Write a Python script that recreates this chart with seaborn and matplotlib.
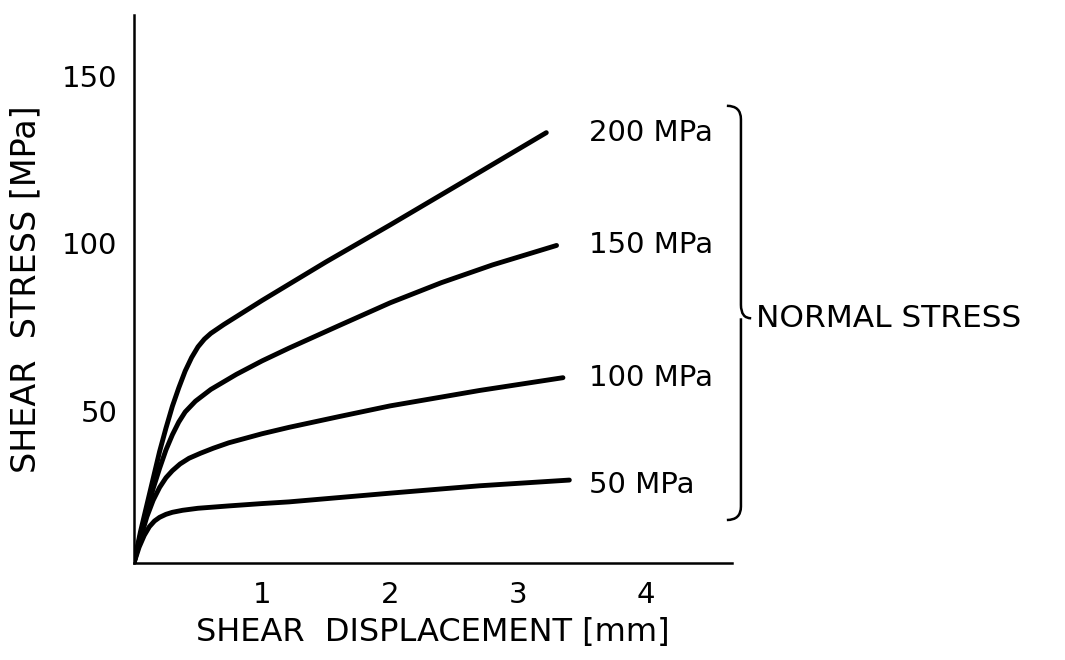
import numpy as np
import pandas as pd
import seaborn as sns
import matplotlib.pyplot as plt
from matplotlib.path import Path
from matplotlib.patches import PathPatch

# ---- data ----
disp_200 = [0.0, 0.05, 0.10, 0.15, 0.20, 0.25, 0.30, 0.35, 0.40, 0.45, 0.50,
            0.55, 0.60, 0.70, 0.80, 1.0, 1.5, 2.0, 2.6, 3.22]
stress_200 = [4.8, 14, 22, 30, 38, 45, 51.5, 57, 62, 66, 69.2,
              71.5, 73.2, 75.8, 78.2, 83, 94.5, 105.5, 119, 133]
disp_150 = [0.0, 0.05, 0.10, 0.15, 0.20, 0.25, 0.30, 0.35, 0.40, 0.48, 0.60,
            0.80, 1.0, 1.21, 1.6, 2.0, 2.4, 2.8, 3.3]
stress_150 = [4.8, 13, 20, 27, 33, 38.5, 43, 46.8, 49.8, 53, 56.5,
              61, 65, 68.8, 75.5, 82.3, 88.3, 93.6, 99.4]
disp_100 = [0.0, 0.05, 0.10, 0.15, 0.20, 0.25, 0.30, 0.36, 0.43, 0.52, 0.62,
            0.74, 1.0, 1.21, 1.6, 2.0, 2.7, 3.35]
stress_100 = [4.8, 12, 18.5, 23.5, 27.3, 30.2, 32.3, 34.3, 36, 37.5, 39.0,
              40.6, 43.3, 45.2, 48.4, 51.6, 56.2, 60]
disp_50 = [0.0, 0.04, 0.08, 0.12, 0.16, 0.20, 0.25, 0.30, 0.38, 0.50, 0.74,
           1.0, 1.21, 2.0, 2.7, 3.4]
stress_50 = [4.8, 9.5, 13, 15.6, 17.3, 18.4, 19.3, 19.9, 20.5, 21.1, 21.8,
             22.5, 23.0, 25.6, 27.8, 29.5]

series_labels = ["200 MPa", "150 MPa", "100 MPa", "50 MPa"]
x_ticks = [1, 2, 3, 4]
y_ticks = [50, 100, 150]
x_label = "SHEAR  DISPLACEMENT [mm]"
y_label = "SHEAR  STRESS [MPa]"
brace_label = "NORMAL STRESS"

frames = []
for lab, xs, ys in zip(series_labels,
                       [disp_200, disp_150, disp_100, disp_50],
                       [stress_200, stress_150, stress_100, stress_50]):
    frames.append(pd.DataFrame({"disp": xs, "stress": ys, "normal": lab}))
df = pd.concat(frames, ignore_index=True)

sns.set_style("white")
plt.rcParams['font.family'] = ['DejaVu Sans']
plt.rcParams['text.color'] = 'black'
plt.rcParams['axes.labelcolor'] = 'black'

fig = plt.figure(figsize=(10.65, 6.6), dpi=100)
ax = fig.add_axes([0.1258, 0.147, 0.5615, 0.830])

sns.lineplot(data=df, x="disp", y="stress", hue="normal", units="normal",
             estimator=None, sort=False, palette=["black"] * 4,
             linewidth=3.5, legend=False, ax=ax)
for ln in ax.lines:
    ln.set_solid_capstyle("round")
    ln.set_solid_joinstyle("round")

ax.set_xlim(0, 4.67)
ax.set_ylim(4.8, 168)
ax.set_xticks(x_ticks)
ax.set_xticklabels([str(t) for t in x_ticks])
ax.set_yticks(y_ticks)
ax.set_yticklabels([str(t) for t in y_ticks])
for s in ["top", "right"]:
    ax.spines[s].set_visible(False)
for s in ["left", "bottom"]:
    ax.spines[s].set_linewidth(1.8)
    ax.spines[s].set_color("black")
ax.tick_params(axis="both", direction="in", length=8, width=1.6,
               colors="black", labelsize=21)
ax.tick_params(axis="x", pad=13)
ax.tick_params(axis="y", pad=12)

ax.set_xlabel(x_label, fontsize=23, labelpad=6)
ax.set_ylabel(y_label, fontsize=24, labelpad=14)

# series labels at the line ends
label_y = [133, 99.4, 60, 28]
for lab, yv in zip(series_labels, label_y):
    ax.text(3.55, yv, lab, fontsize=21, va="center", ha="left", clip_on=False)

# curly brace grouping
x_in, x_mid, x_tip = 4.63, 4.74, 4.82
y_top, y_bot, y_c = 141, 17.6, 77.7
verts = [(x_in, y_top), (x_mid, y_top), (x_mid, y_top - 4),
         (x_mid, y_c + 4), (x_mid, y_c), (x_tip, y_c),
         (x_mid, y_c), (x_mid, y_c - 4),
         (x_mid, y_bot + 4), (x_mid, y_bot), (x_in, y_bot)]
codes = [Path.MOVETO, Path.CURVE3, Path.CURVE3,
         Path.LINETO, Path.CURVE3, Path.CURVE3,
         Path.MOVETO, Path.CURVE3, Path.LINETO,
         Path.CURVE3, Path.CURVE3]
ax.add_patch(PathPatch(Path(verts, codes), fill=False, lw=1.8,
                       edgecolor="black", clip_on=False))
ax.text(4.86, y_c, brace_label, fontsize=22.5, va="center", ha="left",
        clip_on=False)

fig.savefig("out.png", dpi=100)
